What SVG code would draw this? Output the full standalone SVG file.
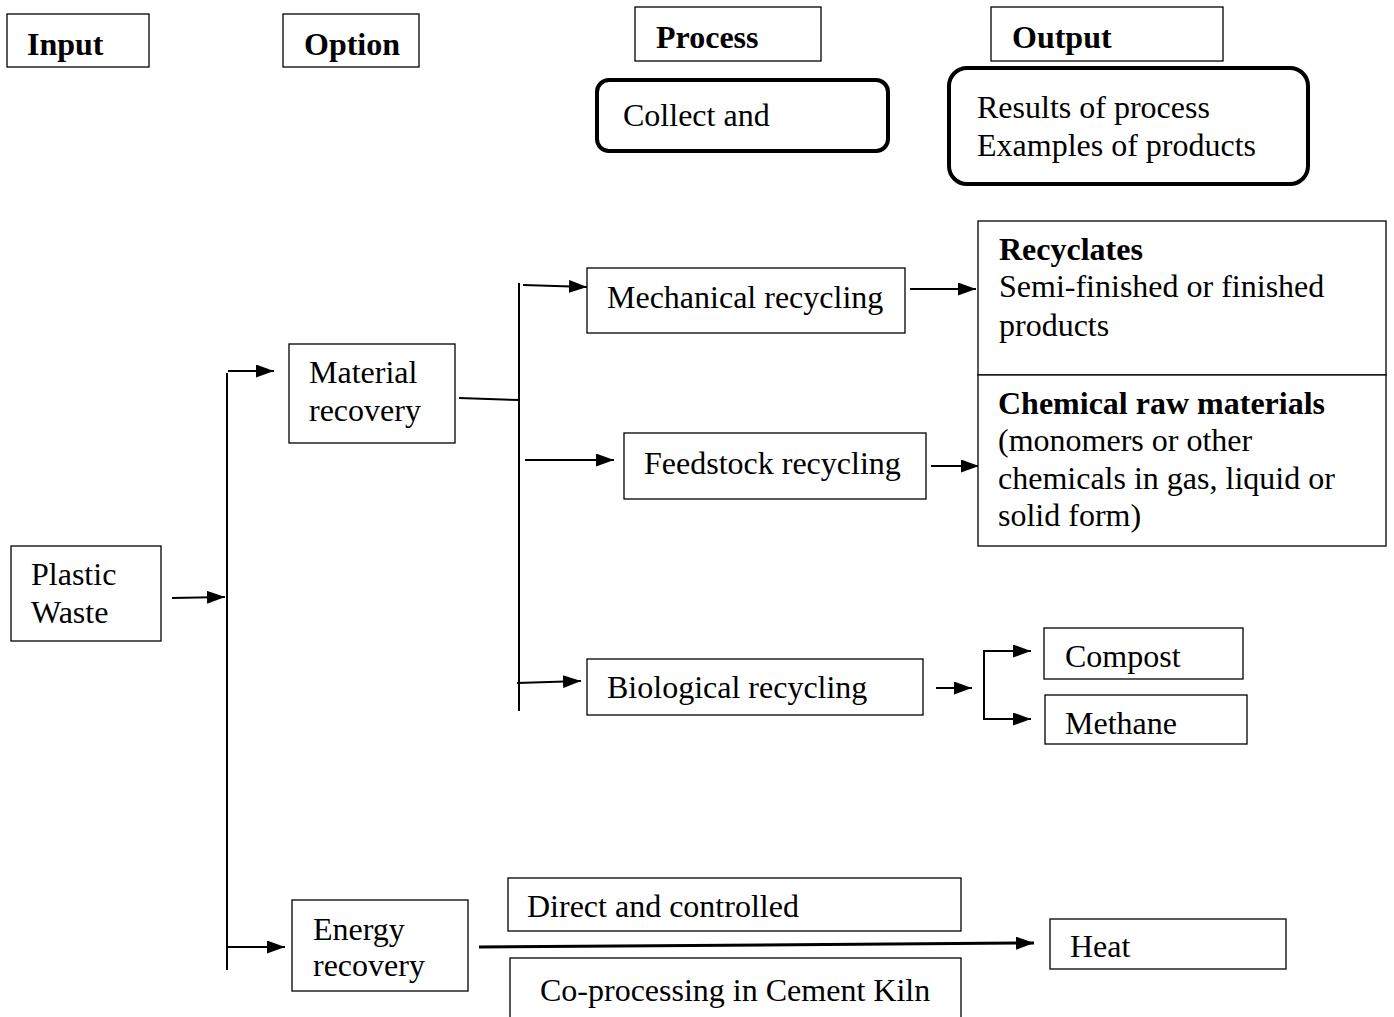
<svg xmlns="http://www.w3.org/2000/svg" width="1394" height="1017" viewBox="0 0 1394 1017">
<style>
.b{fill:#fff;stroke:#000;stroke-width:1.3}
.r{fill:#fff;stroke:#000;stroke-width:4}
.t{font-family:"Liberation Serif","Times New Roman",serif;font-size:32px;fill:#000}
.h{font-weight:bold}
.c{fill:none;stroke:#000;stroke-width:2}
</style>
<defs>
<marker id="ah" viewBox="0 0 18 13" refX="18" refY="6.5" markerWidth="18" markerHeight="13" markerUnits="userSpaceOnUse" orient="auto">
<path d="M0,0 L18,6.5 L0,13 z" fill="#000"/>
</marker>
</defs>
<rect width="1394" height="1017" fill="#fff"/>
<g id="connectors">
<line class="c" x1="172" y1="598" x2="225" y2="597" marker-end="url(#ah)"/>
<line class="c" x1="227" y1="373" x2="227" y2="970"/>
<line class="c" x1="228" y1="371" x2="274" y2="371" marker-end="url(#ah)"/>
<line class="c" x1="228" y1="947" x2="285" y2="947" marker-end="url(#ah)"/>
<line class="c" x1="459" y1="398" x2="519" y2="400"/>
<line class="c" x1="519" y1="283" x2="519" y2="711"/>
<line class="c" x1="523" y1="285" x2="587" y2="287" marker-end="url(#ah)"/>
<line class="c" x1="525" y1="460" x2="614" y2="460" marker-end="url(#ah)"/>
<line class="c" x1="517" y1="683" x2="581" y2="681" marker-end="url(#ah)"/>
<line class="c" x1="910" y1="289" x2="976" y2="289" marker-end="url(#ah)"/>
<line class="c" x1="931" y1="466" x2="979" y2="466" marker-end="url(#ah)"/>
<line class="c" x1="936" y1="688" x2="972" y2="688" marker-end="url(#ah)"/>
<line class="c" x1="984" y1="651" x2="984" y2="719"/>
<line class="c" x1="983" y1="651" x2="1031" y2="651" marker-end="url(#ah)"/>
<line class="c" x1="983" y1="719" x2="1031" y2="719" marker-end="url(#ah)"/>
<line class="c" x1="479" y1="947" x2="1034" y2="943" style="stroke-width:3" marker-end="url(#ah)"/>
</g>
<g id="input-header"><rect class="b" x="7" y="14" width="142" height="53"/><text class="t h" x="27" y="55">Input</text></g>
<g id="option-header"><rect class="b" x="283" y="14" width="136" height="53"/><text class="t h" x="304" y="55">Option</text></g>
<g id="process-header"><rect class="b" x="635" y="7" width="186" height="54"/><text class="t h" x="656" y="48">Process</text></g>
<g id="output-header"><rect class="b" x="991" y="7" width="232" height="54"/><text class="t h" x="1012" y="48">Output</text></g>
<g id="collect-legend"><rect class="r" x="597" y="80" width="291" height="71" rx="12"/><text class="t" x="623" y="126">Collect and</text></g>
<g id="results-legend"><rect class="r" x="949" y="68" width="359" height="116" rx="18"/><text class="t" x="977" y="118">Results of process</text><text class="t" x="977" y="156">Examples of products</text></g>
<g id="recyclates"><rect class="b" x="978" y="221" width="408" height="154"/><text class="t h" x="999" y="260">Recyclates</text><text class="t" x="999" y="297">Semi-finished or finished</text><text class="t" x="999" y="336">products</text></g>
<g id="chemical"><rect class="b" x="978" y="375" width="408" height="171"/><text class="t h" x="998" y="414">Chemical raw materials</text><text class="t" x="998" y="451">(monomers or other</text><text class="t" x="998" y="489">chemicals in gas, liquid or</text><text class="t" x="998" y="526">solid form)</text></g>
<g id="mechanical"><rect class="b" x="587" y="268" width="318" height="65"/><text class="t" x="607" y="308">Mechanical recycling</text></g>
<g id="material"><rect class="b" x="289" y="344" width="166" height="99"/><text class="t" x="309" y="383">Material</text><text class="t" x="309" y="421">recovery</text></g>
<g id="feedstock"><rect class="b" x="624" y="433" width="302" height="66"/><text class="t" x="644" y="474">Feedstock recycling</text></g>
<g id="plastic"><rect class="b" x="11" y="546" width="150" height="95"/><text class="t" x="31" y="585">Plastic</text><text class="t" x="31" y="623">Waste</text></g>
<g id="biological"><rect class="b" x="587" y="659" width="336" height="56"/><text class="t" x="607" y="698">Biological recycling</text></g>
<g id="compost"><rect class="b" x="1044" y="628" width="199" height="51"/><text class="t" x="1065" y="667">Compost</text></g>
<g id="methane"><rect class="b" x="1045" y="695" width="202" height="49"/><text class="t" x="1065" y="734">Methane</text></g>
<g id="energy"><rect class="b" x="292" y="900" width="176" height="91"/><text class="t" x="313" y="940">Energy</text><text class="t" x="313" y="976">recovery</text></g>
<g id="direct"><rect class="b" x="508" y="878" width="453" height="53"/><text class="t" x="527" y="917">Direct and controlled</text></g>
<g id="heat"><rect class="b" x="1050" y="919" width="236" height="50"/><text class="t" x="1070" y="957">Heat</text></g>
<g id="coprocessing"><rect class="b" x="510" y="958" width="451" height="80"/><text class="t" x="540" y="1001">Co-processing in Cement Kiln</text></g>
</svg>
